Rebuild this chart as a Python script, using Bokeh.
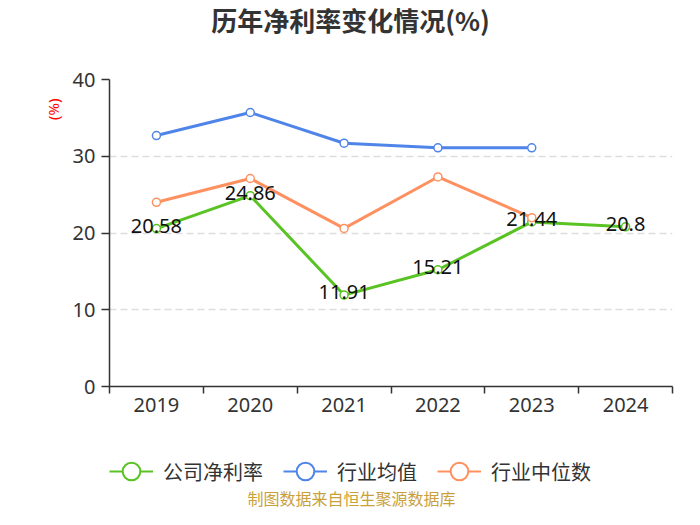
import math
from bokeh.plotting import figure
from bokeh.layouts import column
from bokeh.models import (Range1d, FixedTicker, Legend, LegendItem, Title,
                          Label, ColumnDataSource)
from bokeh.core.properties import value
from bokeh.embed import file_html
from bokeh.resources import INLINE

# ---------------- data ----------------
years = ["2019", "2020", "2021", "2022", "2023", "2024"]
company_margin = [20.58, 24.86, 11.91, 15.21, 21.44, 20.8]
industry_avg = [32.7, 35.7, 31.7, 31.1, 31.1]
industry_median = [24.0, 27.1, 20.6, 27.3, 22.0]
y_ticks = [0, 10, 20, 30, 40]

title_text = "历年净利率变化情况(%)"
unit_text = "(%)"
source_text = "制图数据来自恒生聚源数据库"
series_names = ["公司净利率", "行业均值", "行业中位数"]
colors = ["#58c322", "#4f85e8", "#ff9161"]
series_values = [company_margin, industry_avg, industry_median]

CJK = "Noto Sans CJK SC"
NUM = "Noto Sans"
W = 684
LEFT, RIGHT = 109, 12          # frame borders shared by all stacked figures


def blank_fig(h):
    f = figure(width=W, height=h, output_backend="svg", toolbar_location=None,
               x_range=Range1d(LEFT, W - RIGHT), y_range=Range1d(0, h),
               x_axis_location=None, y_axis_location=None,
               min_border_left=LEFT, min_border_right=RIGHT,
               min_border_top=0, min_border_bottom=0)
    f.outline_line_color = None
    f.background_fill_color = "white"
    f.border_fill_color = "white"
    f.grid.visible = False
    return f


# ---------------- title strip ----------------
TOP_H = 60
top = blank_fig(TOP_H)
top.add_layout(Label(x=350, y=TOP_H - 19, text=title_text, text_align="center",
                     text_baseline="middle", text_font_size="26px",
                     text_font_style="bold", text_color="#333333",
                     text_font=CJK))

# ---------------- main chart ----------------
p = figure(width=W, height=380, output_backend="svg", toolbar_location=None,
           x_range=Range1d(0, len(years)), y_range=Range1d(y_ticks[0], y_ticks[-1]),
           min_border_left=LEFT, min_border_right=RIGHT, min_border_top=19,
           min_border_bottom=54)
p.outline_line_color = None
p.background_fill_color = "white"
p.border_fill_color = "white"
p.xgrid.visible = False
p.ygrid.grid_line_color = "#dddddd"
p.ygrid.grid_line_width = 1.5
p.ygrid.grid_line_dash = "7 4"
p.ygrid.ticker = FixedTicker(ticks=y_ticks)

xs = [i + 0.5 for i in range(len(years))]

yax = p.yaxis[0]
yax.ticker = FixedTicker(ticks=y_ticks)
yax.axis_line_color = "#333333"
yax.axis_line_width = 1.5
yax.major_tick_line_color = "#333333"
yax.major_tick_line_width = 1.5
yax.major_tick_out = 8
yax.major_tick_in = 0
yax.minor_tick_line_color = None
yax.major_label_text_font_size = "20px"
yax.major_label_text_color = "#333333"
yax.major_label_text_font = NUM
yax.major_label_standoff = 6

xax = p.xaxis[0]
xax.ticker = FixedTicker(ticks=xs, minor_ticks=list(range(len(years) + 1)))
xax.major_label_overrides = {x: y for x, y in zip(xs, years)}
xax.axis_line_color = "#333333"
xax.axis_line_width = 1.5
xax.major_tick_line_color = None
xax.major_tick_out = 7
xax.major_tick_in = 0
xax.minor_tick_line_color = "#333333"
xax.minor_tick_line_width = 1.5
xax.minor_tick_out = 7
xax.minor_tick_in = 0
xax.major_label_text_font_size = "20px"
xax.major_label_text_color = "#333333"
xax.major_label_text_font = NUM
xax.major_label_standoff = 4

p.add_layout(Title(text=unit_text, align="right", offset=19, standoff=13,
                   text_font_size="15px", text_color="#ff0000",
                   text_font=NUM, text_font_style="normal"), "left")

for vals, color in zip(series_values, colors):
    src = ColumnDataSource(dict(x=xs[:len(vals)], y=vals))
    p.line("x", "y", source=src, line_color=color, line_width=3)
    p.scatter("x", "y", source=src, size=8, fill_color="white",
              line_color=color, line_width=1.5)

lab_src = ColumnDataSource(dict(x=xs, y=company_margin,
                                t=[f"{v:g}" for v in company_margin]))
p.text("x", "y", text="t", source=lab_src, text_align="center",
       text_baseline="middle", text_font_size="20px", text_color="#111111",
       text_font=value(NUM), y_offset=-3)

# ---------------- legend + source strip ----------------
BOT_H = 69
bot = blank_fig(BOT_H)
items = []
for name, color, vals in zip(series_names, colors, series_values):
    src = ColumnDataSource(dict(x=xs[:len(vals)], y=vals))
    r1 = bot.line("x", "y", source=src, line_color=color, line_width=2,
                  visible=False)
    r2 = bot.scatter("x", "y", source=src, size=18, fill_color="white",
                     line_color=color, line_width=2, visible=False)
    items.append(LegendItem(label=name, renderers=[r1, r2]))
legend = Legend(items=items, orientation="horizontal", location=(0, 16),
                glyph_width=44, glyph_height=44, label_standoff=10, spacing=20,
                padding=0, margin=0, border_line_color=None,
                background_fill_alpha=0, label_text_font_size="20px",
                label_text_color="#333333", label_text_font=CJK,
                label_text_baseline="middle")
bot.add_layout(legend, "center")
bot.add_layout(Label(x=351, y=BOT_H - 57, text=source_text, text_align="center",
                     text_baseline="middle", text_font_size="16px",
                     text_color="#c9a13b", text_font=CJK))

layout = column(top, p, bot, spacing=0)
open("out.html", "w").write(file_html(layout, INLINE))
